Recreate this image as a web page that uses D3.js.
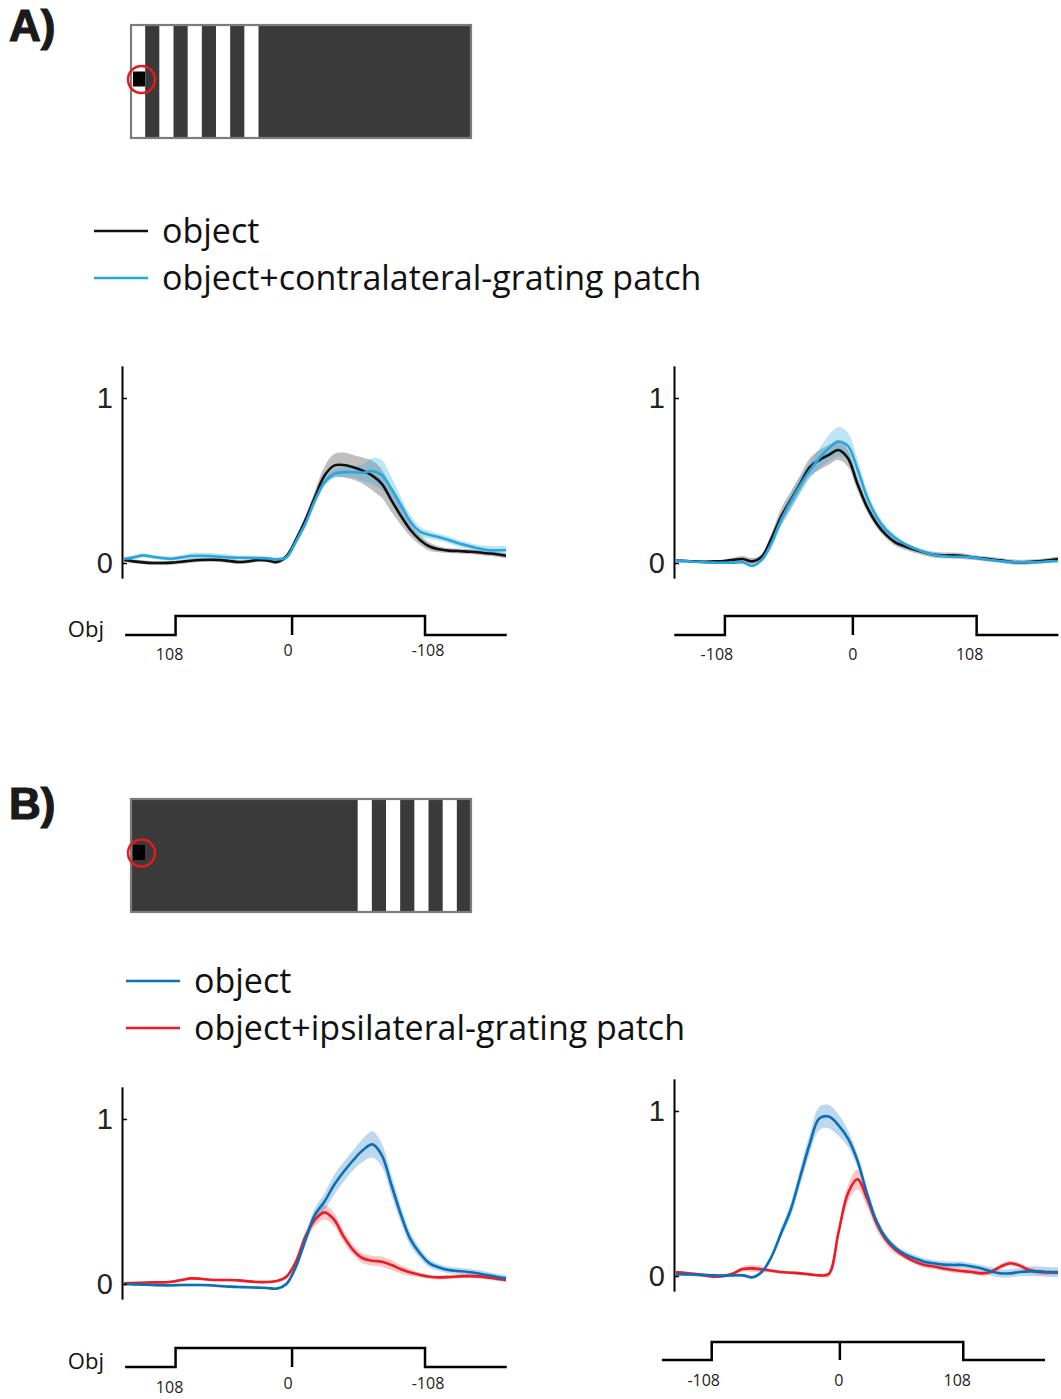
<!DOCTYPE html>
<html>
<head>
<meta charset="utf-8">
<script src="https://cdn.jsdelivr.net/npm/d3@7"></script>
<style>
  body { margin: 0; background: #fff; }
  svg { display: block; }
</style>
</head>
<body>
<svg id="fig" width="1061" height="1399"></svg>
<script>
// time grid shared by all traces (0 = left edge of plot, 100 = right edge)
var tGrid = [0,2.5,5,7.5,10,12.5,15,17.5,20,22.5,25,27.5,30,32.5,35,37.5,40,42.5,45,47.5,50,
             52.5,55,57.5,60,62.5,65,67.5,70,72.5,75,77.5,80,82.5,85,87.5,90,92.5,95,97.5,100];

// A) left panel
var aLeftObj    = [0.018,0.01,0.004,0,0,0.002,0.008,0.014,0.018,0.02,0.018,0.012,0.006,0.01,0.018,0.016,0.006,
                   0.04,0.14,0.26,0.40,0.53,0.59,0.594,0.58,0.56,0.53,0.48,0.38,0.285,0.20,0.14,0.10,0.083,0.075,0.073,0.069,0.065,0.059,0.053,0.044];
var aLeftObjSem = [0.012,0.012,0.012,0.012,0.012,0.012,0.012,0.012,0.012,0.012,0.012,0.012,0.012,0.012,0.012,0.012,0.012,
                   0.015,0.02,0.03,0.04,0.055,0.07,0.075,0.075,0.08,0.09,0.085,0.07,0.055,0.04,0.03,0.025,0.018,0.015,0.015,0.015,0.015,0.015,0.015,0.015];
var aLeftPatch    = [0.024,0.034,0.046,0.038,0.03,0.026,0.034,0.042,0.044,0.042,0.038,0.034,0.032,0.032,0.03,0.028,0.022,
                     0.034,0.13,0.24,0.38,0.49,0.54,0.55,0.55,0.547,0.557,0.533,0.45,0.35,0.25,0.19,0.17,0.156,0.14,0.12,0.105,0.09,0.079,0.077,0.079];
var aLeftPatchSem = [0.012,0.012,0.012,0.012,0.012,0.012,0.012,0.018,0.018,0.018,0.018,0.018,0.012,0.012,0.012,0.012,0.012,
                     0.015,0.02,0.025,0.025,0.025,0.025,0.03,0.035,0.05,0.08,0.09,0.07,0.05,0.04,0.03,0.025,0.02,0.02,0.02,0.02,0.02,0.025,0.025,0.025];

// A) right panel
var aRightObj    = [0.014,0.012,0.01,0.008,0.01,0.012,0.02,0.024,0.01,0.04,0.15,0.28,0.38,0.48,0.58,0.624,0.655,
                    0.685,0.635,0.48,0.34,0.24,0.17,0.123,0.10,0.08,0.063,0.05,0.046,0.046,0.042,0.034,0.028,0.022,0.016,0.008,0.004,0.006,0.01,0.016,0.024];
var aRightObjSem = [0.008,0.008,0.008,0.008,0.008,0.008,0.012,0.018,0.02,0.015,0.03,0.05,0.05,0.05,0.055,0.06,0.06,
                    0.06,0.05,0.04,0.03,0.025,0.02,0.02,0.02,0.02,0.018,0.018,0.018,0.018,0.018,0.015,0.015,0.015,0.015,0.015,0.015,0.015,0.015,0.015,0.015];
var aRightPatch    = [0.012,0.012,0.008,0.004,0.002,0.002,0.002,0.004,-0.018,0.02,0.12,0.26,0.37,0.47,0.56,0.634,0.695,
                      0.735,0.71,0.57,0.40,0.28,0.20,0.15,0.115,0.087,0.065,0.05,0.042,0.038,0.038,0.034,0.026,0.018,0.012,0.006,0.004,0.004,0.006,0.01,0.012];
var aRightPatchSem = [0.008,0.008,0.008,0.008,0.008,0.008,0.008,0.008,0.008,0.01,0.03,0.04,0.05,0.05,0.05,0.06,0.08,
                      0.09,0.08,0.06,0.04,0.03,0.025,0.02,0.01,0.01,0.01,0.01,0.01,0.01,0.01,0.01,0.01,0.01,0.01,0.01,0.01,0.01,0.01,0.01,0.01];

// B) left panel
var bLeftObj    = [0,-0.002,-0.004,-0.006,-0.008,-0.008,-0.006,-0.006,-0.006,-0.008,-0.012,-0.016,-0.018,-0.02,-0.022,-0.024,-0.028,
                   0.0,0.105,0.267,0.42,0.50,0.60,0.68,0.75,0.81,0.846,0.78,0.60,0.42,0.27,0.185,0.125,0.10,0.085,0.079,0.073,0.065,0.055,0.044,0.034];
var bLeftObjSem = [0.008,0.008,0.008,0.008,0.008,0.008,0.008,0.008,0.008,0.008,0.008,0.008,0.008,0.008,0.008,0.008,0.008,
                   0.01,0.02,0.03,0.04,0.05,0.06,0.06,0.06,0.07,0.08,0.07,0.06,0.05,0.04,0.03,0.025,0.02,0.02,0.02,0.02,0.02,0.02,0.02,0.02];
var bLeftPatch    = [0.004,0.006,0.008,0.01,0.01,0.014,0.024,0.034,0.032,0.026,0.024,0.024,0.022,0.016,0.012,0.012,0.018,
                     0.044,0.135,0.287,0.39,0.434,0.39,0.287,0.206,0.156,0.141,0.135,0.115,0.089,0.069,0.055,0.044,0.04,0.042,0.046,0.048,0.046,0.04,0.032,0.024];
var bLeftPatchSem = [0.008,0.008,0.008,0.008,0.008,0.008,0.008,0.008,0.008,0.008,0.008,0.008,0.008,0.008,0.008,0.008,0.008,
                     0.012,0.02,0.03,0.04,0.045,0.04,0.035,0.03,0.03,0.03,0.03,0.03,0.025,0.02,0.012,0.012,0.012,0.012,0.012,0.012,0.012,0.012,0.012,0.012];

// B) right panel
var bRightObj    = [0.01,0.01,0.008,0.006,0.004,0.002,0.004,0.004,-0.008,0.026,0.117,0.259,0.40,0.60,0.80,0.955,0.966,
                    0.915,0.834,0.70,0.50,0.33,0.228,0.168,0.131,0.107,0.087,0.077,0.069,0.067,0.067,0.057,0.046,0.028,0.016,0.016,0.024,0.028,0.028,0.024,0.022];
var bRightObjSem = [0.01,0.01,0.01,0.01,0.01,0.01,0.01,0.01,0.01,0.01,0.015,0.03,0.04,0.05,0.06,0.07,0.07,
                    0.065,0.05,0.04,0.03,0.025,0.02,0.02,0.02,0.02,0.02,0.02,0.02,0.02,0.02,0.02,0.02,0.025,0.025,0.025,0.025,0.03,0.03,0.03,0.03];
var bRightPatch    = [0.022,0.018,0.012,0.004,-0.004,0,0.016,0.042,0.046,0.04,0.032,0.024,0.02,0.016,0.01,0.004,0.012,
                      0.26,0.50,0.586,0.47,0.32,0.218,0.158,0.117,0.087,0.067,0.057,0.046,0.036,0.03,0.024,0.016,0.026,0.057,0.077,0.063,0.036,0.024,0.022,0.022];
var bRightPatchSem = [0.01,0.01,0.01,0.01,0.01,0.01,0.01,0.015,0.02,0.018,0.01,0.01,0.01,0.01,0.01,0.01,0.015,
                      0.03,0.05,0.06,0.05,0.04,0.03,0.025,0.015,0.015,0.015,0.015,0.015,0.015,0.015,0.015,0.015,0.015,0.015,0.015,0.015,0.015,0.015,0.015,0.015];

// object stimulus trace: [start, on, centre, off, end] on the same time grid
var stimLeft   = [0.3, 13.5, 44.0, 78.8, 100.2];
var stimARight = [-0.45, 12.8, 46.3, 78.7, 100.1];
var stimBRight = [-3.7, 9.35, 42.9, 75.2, 96.6];
var stimLabelsLeft  = ["108", "0", "-108"];
var stimLabelsRight = ["-108", "0", "108"];

// arena pictograms: white half-stripe indices out of 24
var gratingA = [0, 2, 4, 6, 8];
var gratingB = [16, 18, 20, 22];

var legendA = ["object", "object+contralateral-grating patch"];
var legendB = ["object", "object+ipsilateral-grating patch"];

var colBlack = "#111111", colSky = "#27a6df", colBlue = "#0a6fb9", colRed = "#ec1c24";

var svg = d3.select("#fig");
var unit = 165; // px per response unit

var panels = [
  {left: 124, right: 506, axisX: 122, zero: 563, stimHi: 616, stimLo: 635,
   labelY: [660, 656, 656], labelDx: [-6, -4, 3], obj: 617,
   events: stimLeft, labels: stimLabelsLeft,
   series: [{m: aLeftObj, s: aLeftObjSem, c: colBlack, band: "#000", op: 0.25},
            {m: aLeftPatch, s: aLeftPatchSem, c: colSky, band: colSky, op: 0.3}]},
  {left: 676, right: 1058, axisX: 674, zero: 563, stimHi: 616, stimLo: 635,
   labelY: [660, 660, 660], labelDx: [-8, 0, -7],
   events: stimARight, labels: stimLabelsRight,
   series: [{m: aRightObj, s: aRightObjSem, c: colBlack, band: "#000", op: 0.25},
            {m: aRightPatch, s: aRightPatchSem, c: colSky, band: colSky, op: 0.3}]},
  {left: 124, right: 506, axisX: 122, zero: 1284, stimHi: 1348, stimLo: 1367,
   labelY: [1393, 1389, 1389], labelDx: [-6, -4, 3], obj: 1349,
   events: stimLeft, labels: stimLabelsLeft,
   series: [{m: bLeftPatch, s: bLeftPatchSem, c: colRed, band: colRed, op: 0.25},
            {m: bLeftObj, s: bLeftObjSem, c: colBlue, band: colBlue, op: 0.27}]},
  {left: 676, right: 1058, axisX: 674, zero: 1276, stimHi: 1342, stimLo: 1360,
   labelY: [1386, 1386, 1386], labelDx: [-8, -1, -6],
   events: stimBRight, labels: stimLabelsRight,
   series: [{m: bRightPatch, s: bRightPatchSem, c: colRed, band: colRed, op: 0.25},
            {m: bRightObj, s: bRightObjSem, c: colBlue, band: colBlue, op: 0.27}]}
];

function drawPanel(p) {
  var x = d3.scaleLinear().domain([0, 100]).range([p.left, p.right]);
  var y = d3.scaleLinear().domain([-0.092, 1.195])
      .range([p.zero + 0.092 * unit, p.zero - 1.195 * unit]);
  var g = svg.append("g");

  var area = d3.area()
      .x(function(d) { return x(d.t); })
      .y0(function(d) { return y(d.m - d.s); })
      .y1(function(d) { return y(d.m + d.s); })
      .curve(d3.curveCatmullRom.alpha(0.5));
  var line = d3.line()
      .x(function(d) { return x(d.t); })
      .y(function(d) { return y(d.m); })
      .curve(d3.curveCatmullRom.alpha(0.5));

  var rows = p.series.map(function(s) {
    return tGrid.map(function(t, i) { return {t: t, m: s.m[i], s: s.s[i]}; });
  });

  // shaded error bands first, then the mean traces
  p.series.forEach(function(s, k) {
    g.append("path").attr("d", area(rows[k]))
      .attr("fill", s.band).attr("fill-opacity", s.op);
  });
  p.series.forEach(function(s, k) {
    g.append("path").attr("d", line(rows[k]))
      .attr("fill", "none").attr("stroke", s.c).attr("stroke-width", 2.6)
      .attr("stroke-linejoin", "round");
  });

  var yAxis = d3.axisLeft(y).tickValues([0, 1]).tickFormat(d3.format("d"))
      .tickSizeInner(-5).tickSizeOuter(0).tickPadding(9);
  var ax = g.append("g").attr("transform", "translate(" + p.axisX + ",0)").call(yAxis);
  ax.select(".domain").attr("stroke", "#000").attr("stroke-width", 2);
  ax.selectAll(".tick line").attr("stroke", "#000").attr("stroke-width", 1.5);
  ax.selectAll(".tick text")
    .attr("font-family", "'Liberation Sans', Arial, sans-serif")
    .attr("font-size", 29).attr("fill", "#222");

  // stimulus position trace
  var sy = d3.scaleLinear().domain([0, 1]).range([p.stimLo, p.stimHi]);
  var e = p.events;
  var steps = [[e[0], 0], [e[1], 0], [e[1], 1], [e[3], 1], [e[3], 0], [e[4], 0]];
  var stepLine = d3.line().x(function(d) { return x(d[0]); }).y(function(d) { return sy(d[1]); });
  g.append("path").attr("d", stepLine(steps))
    .attr("fill", "none").attr("stroke", "#000").attr("stroke-width", 2.5);
  g.append("path").attr("d", stepLine([[e[2], 1], [e[2], 0]]))
    .attr("fill", "none").attr("stroke", "#000").attr("stroke-width", 2.5);

  g.selectAll(".stimlab").data(p.labels).enter().append("text")
    .attr("x", function(d, i) { return x(e[i + 1]) + p.labelDx[i]; })
    .attr("y", function(d, i) { return p.labelY[i]; })
    .attr("text-anchor", "middle")
    .attr("font-family", "'Open Sans', sans-serif").attr("font-size", 16).attr("fill", "#222")
    .text(function(d) { return d; });

  if (p.obj) {
    g.append("text").attr("x", 104).attr("y", p.obj + 20).attr("text-anchor", "end")
      .attr("font-family", "'Open Sans', sans-serif").attr("font-size", 22).attr("fill", "#111")
      .text("Obj");
  }
}

panels.forEach(drawPanel);

// arena pictograms with the fly position marker
function drawArena(top, stripes, markY) {
  var ax = d3.scaleLinear().domain([0, 24]).range([131, 471]);
  var g = svg.append("g");
  g.append("rect").attr("x", ax(0)).attr("y", top).attr("width", ax(24) - ax(0)).attr("height", 113)
    .attr("fill", "#3a3a3a");
  g.selectAll(".stripe").data(stripes).enter().append("rect")
    .attr("x", function(d) { return ax(d); }).attr("y", top)
    .attr("width", ax(1) - ax(0)).attr("height", 113).attr("fill", "#fff");
  g.append("rect").attr("x", ax(0)).attr("y", top).attr("width", ax(24) - ax(0)).attr("height", 113)
    .attr("fill", "none").attr("stroke", "#7c7c7c").attr("stroke-width", 2.2);
  g.append("rect").attr("x", 133).attr("y", markY - 8).attr("width", 12).attr("height", 15).attr("fill", "#000");
  g.append("circle").attr("cx", 141.5).attr("cy", markY).attr("r", 13.5)
    .attr("fill", "none").attr("stroke", "#e51a1f").attr("stroke-width", 2.5);
}
drawArena(25, gratingA, 79.5);
drawArena(799, gratingB, 853);

function drawLegend(x0, y0, gap, names, colors) {
  var g = svg.append("g");
  names.forEach(function(n, i) {
    var yy = y0 + i * gap;
    g.append("line").attr("x1", x0).attr("x2", x0 + 54).attr("y1", yy).attr("y2", yy)
      .attr("stroke", colors[i]).attr("stroke-width", 2.4);
    g.append("text").attr("x", x0 + 68).attr("y", yy + 12)
      .attr("font-family", "'Open Sans', sans-serif").attr("font-size", 34).attr("fill", "#111")
      .text(n);
  });
}
drawLegend(94, 231, 47, legendA, [colBlack, colSky]);
drawLegend(126, 981, 47, legendB, [colBlue, colRed]);

svg.selectAll(".panelTitle").data([{t: "A)", y: 41}, {t: "B)", y: 819}]).enter().append("text")
  .attr("x", 9).attr("y", function(d) { return d.y; })
  .attr("font-family", "'Liberation Sans', Arial, sans-serif").attr("font-weight", "bold")
  .attr("font-size", 44).attr("fill", "#1a1a1a")
  .attr("stroke", "#1a1a1a").attr("stroke-width", 1.2)
  .text(function(d) { return d.t; });
</script>
</body>
</html>
